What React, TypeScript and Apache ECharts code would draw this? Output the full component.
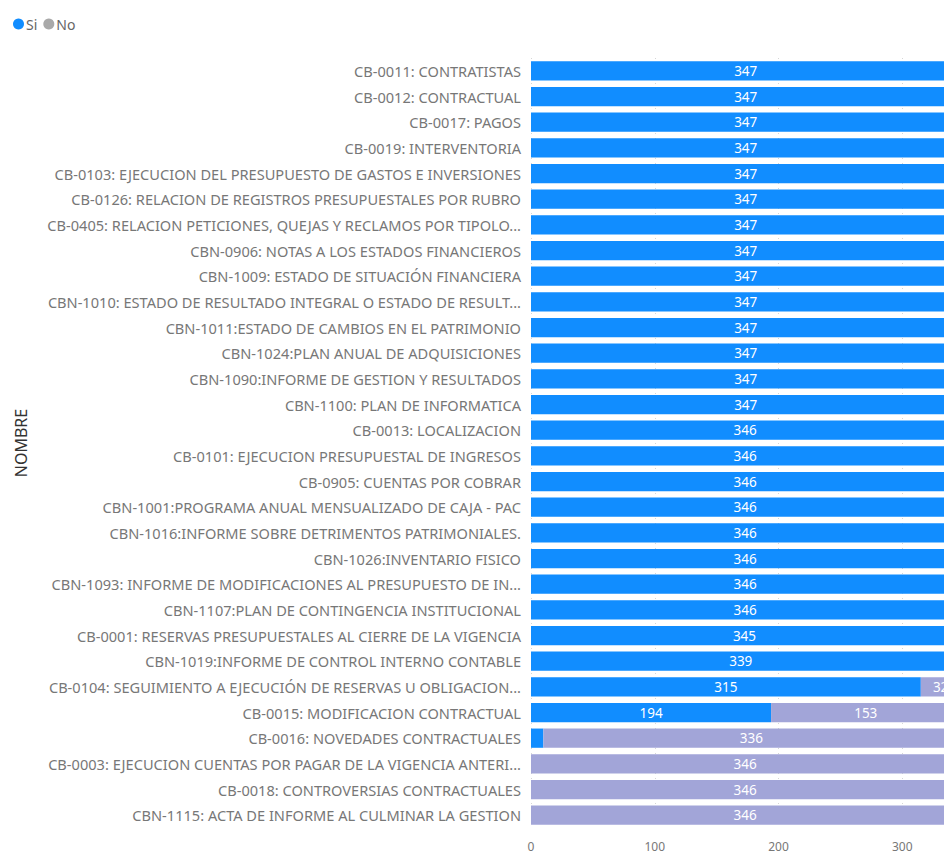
import React, { useEffect, useRef } from "react";
import * as echarts from "echarts";

const categories = [
  "CB-0011: CONTRATISTAS",
  "CB-0012: CONTRACTUAL",
  "CB-0017: PAGOS",
  "CB-0019: INTERVENTORIA",
  "CB-0103: EJECUCION DEL PRESUPUESTO DE GASTOS E INVERSIONES",
  "CB-0126: RELACION DE REGISTROS PRESUPUESTALES POR RUBRO",
  "CB-0405: RELACION PETICIONES, QUEJAS Y RECLAMOS POR TIPOLO...",
  "CBN-0906: NOTAS A LOS ESTADOS FINANCIEROS",
  "CBN-1009: ESTADO DE SITUACIÓN FINANCIERA",
  "CBN-1010: ESTADO DE RESULTADO INTEGRAL O ESTADO DE RESULT...",
  "CBN-1011:ESTADO DE CAMBIOS EN EL PATRIMONIO",
  "CBN-1024:PLAN ANUAL DE ADQUISICIONES",
  "CBN-1090:INFORME DE GESTION Y RESULTADOS",
  "CBN-1100: PLAN DE INFORMATICA",
  "CB-0013: LOCALIZACION",
  "CB-0101: EJECUCION PRESUPUESTAL DE INGRESOS",
  "CB-0905: CUENTAS POR COBRAR",
  "CBN-1001:PROGRAMA ANUAL MENSUALIZADO DE CAJA - PAC",
  "CBN-1016:INFORME SOBRE DETRIMENTOS PATRIMONIALES.",
  "CBN-1026:INVENTARIO FISICO",
  "CBN-1093: INFORME DE MODIFICACIONES AL PRESUPUESTO DE IN...",
  "CBN-1107:PLAN DE CONTINGENCIA INSTITUCIONAL",
  "CB-0001: RESERVAS PRESUPUESTALES AL CIERRE DE LA VIGENCIA",
  "CBN-1019:INFORME DE CONTROL INTERNO CONTABLE",
  "CB-0104: SEGUIMIENTO A EJECUCIÓN DE RESERVAS U OBLIGACION...",
  "CB-0015: MODIFICACION CONTRACTUAL",
  "CB-0016: NOVEDADES CONTRACTUALES",
  "CB-0003: EJECUCION CUENTAS POR PAGAR DE LA VIGENCIA ANTERI...",
  "CB-0018: CONTROVERSIAS CONTRACTUALES",
  "CBN-1115: ACTA DE INFORME AL CULMINAR LA GESTION",
];

const siValues: (number | null)[] = [
  347, 347, 347, 347, 347, 347, 347, 347, 347, 347, 347, 347, 347, 347,
  346, 346, 346, 346, 346, 346, 346, 346,
  345, 339, 315, 194, 10, null, null, null,
];

const noValues: (number | null)[] = [
  null, null, null, null, null, null, null, null, null, null, null, null, null, null,
  null, null, null, null, null, null, null, null,
  null, null, 32, 153, 336, 346, 346, 346,
];

const xTicks = [0, 100, 200, 300, 400];

const SI_COLOR = "#118DFF";
const NO_COLOR = "#A2A5D8";
const FONT = "'Noto Sans', 'Open Sans', sans-serif";

export default function App() {
  const ref = useRef<HTMLDivElement>(null);
  useEffect(() => {
    if (!ref.current) return;
    const chart = echarts.init(ref.current, null, { renderer: "svg" });
    const labelCfg = {
      show: true,
      position: "inside" as const,
      color: "#fff",
      fontSize: 13.5,
      fontFamily: FONT,
    };
    chart.setOption({
      animation: false,
      textStyle: { fontFamily: FONT },
      legend: {
        left: 8,
        top: 12,
        icon: "circle",
        itemWidth: 11,
        itemHeight: 11,
        itemGap: 6,
        textStyle: { color: "#666", fontSize: 14, fontFamily: FONT, padding: [0, 0, 0, -3] },
        data: [
          { name: "Si" },
          { name: "No", itemStyle: { color: "#A9A9A9" } },
        ],
      },
      grid: { left: 531, right: 14, top: 58, bottom: 26, containLabel: false },
      xAxis: {
        type: "value",
        min: xTicks[0],
        max: xTicks[xTicks.length - 1],
        interval: 100,
        axisLine: { show: false },
        axisTick: { show: false },
        axisLabel: {
          color: "#777",
          fontSize: 12,
          margin: 12,
          fontFamily: FONT,
          formatter: (v: number) => (v >= xTicks[xTicks.length - 1] ? "" : String(v)),
        },
        splitLine: { show: true, lineStyle: { color: "#d6d6d6", type: [1, 4], width: 1 } },
      },
      yAxis: {
        type: "category",
        data: categories,
        inverse: true,
        name: "NOMBRE",
        nameLocation: "middle",
        nameRotate: 90,
        nameGap: 502,
        nameTextStyle: { color: "#333", fontSize: 16, fontFamily: FONT },
        axisLine: { show: false },
        axisTick: { show: false },
        axisLabel: { color: "#777", fontSize: 14.6, margin: 10, fontFamily: FONT },
      },
      series: [
        {
          name: "Si",
          type: "bar",
          stack: "total",
          barCategoryGap: "25%",
          itemStyle: { color: SI_COLOR },
          label: labelCfg,
          data: siValues.map((v) =>
            v !== null && v < 20 ? { value: v, label: { show: false } } : v
          ),
        },
        {
          name: "No",
          type: "bar",
          stack: "total",
          barCategoryGap: "25%",
          itemStyle: { color: NO_COLOR },
          label: labelCfg,
          data: noValues,
        },
      ],
    });
    return () => chart.dispose();
  }, []);
  return (
    <div style={{ position: "fixed", left: 0, top: 0, width: 944, height: 854, overflow: "hidden", background: "#fff" }}>
      <div ref={ref} style={{ width: 1040, height: 854 }} />
    </div>
  );
}
